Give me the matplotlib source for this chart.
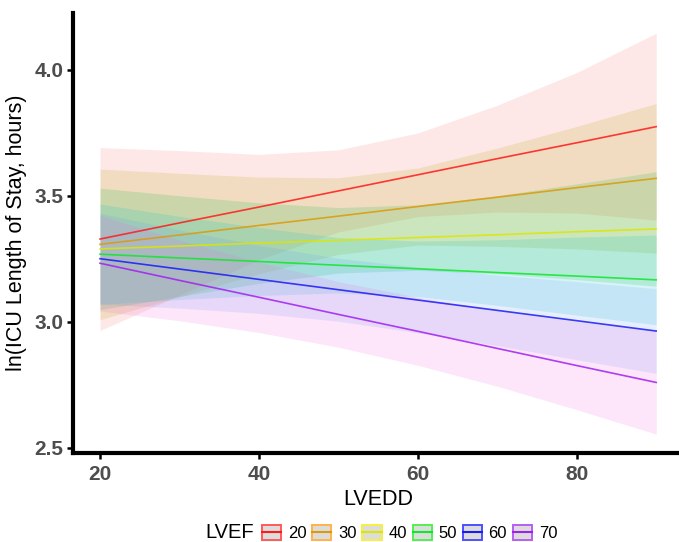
import numpy as np
import matplotlib
matplotlib.use("Agg")
import matplotlib.pyplot as plt
from matplotlib.patches import Patch
from matplotlib.lines import Line2D

plt.rcParams['font.family'] = ['Liberation Sans', 'DejaVu Sans']

# ----------------------------
# Data
# ----------------------------
lvedd = [20, 30, 40, 50, 60, 70, 80, 90]
lvef_levels = ['20', '30', '40', '50', '60', '70']

fit_20 = [3.329, 3.393, 3.456, 3.520, 3.584, 3.648, 3.711, 3.775]
low_20 = [2.966, 3.106, 3.247, 3.357, 3.418, 3.436, 3.432, 3.404]
upp_20 = [3.692, 3.680, 3.665, 3.683, 3.750, 3.860, 3.990, 4.146]

fit_30 = [3.308, 3.345, 3.383, 3.420, 3.458, 3.495, 3.533, 3.570]
low_30 = [3.009, 3.100, 3.191, 3.268, 3.305, 3.300, 3.290, 3.273]
upp_30 = [3.607, 3.590, 3.575, 3.572, 3.611, 3.690, 3.776, 3.867]

fit_40 = [3.290, 3.301, 3.313, 3.324, 3.335, 3.346, 3.358, 3.369]
low_40 = [3.049, 3.101, 3.153, 3.194, 3.205, 3.191, 3.168, 3.142]
upp_40 = [3.531, 3.501, 3.473, 3.454, 3.465, 3.501, 3.548, 3.596]

fit_50 = [3.269, 3.254, 3.240, 3.225, 3.211, 3.196, 3.182, 3.167]
low_50 = [3.070, 3.089, 3.105, 3.115, 3.101, 3.066, 3.027, 2.989]
upp_50 = [3.468, 3.419, 3.375, 3.335, 3.321, 3.326, 3.337, 3.345]

fit_60 = [3.251, 3.210, 3.169, 3.128, 3.087, 3.046, 3.005, 2.964]
low_60 = [3.071, 3.055, 3.034, 3.003, 2.957, 2.906, 2.850, 2.796]
upp_60 = [3.431, 3.365, 3.304, 3.253, 3.217, 3.186, 3.160, 3.132]

fit_70 = [3.233, 3.165, 3.098, 3.030, 2.963, 2.895, 2.827, 2.760]
low_70 = [3.043, 3.005, 2.958, 2.900, 2.828, 2.745, 2.652, 2.555]
upp_70 = [3.423, 3.325, 3.238, 3.160, 3.098, 3.045, 3.002, 2.965]

fits = [fit_20, fit_30, fit_40, fit_50, fit_60, fit_70]
lows = [low_20, low_30, low_40, low_50, low_60, low_70]
upps = [upp_20, upp_30, upp_40, upp_50, upp_60, upp_70]

# ----------------------------
# Style
# ----------------------------
line_colors = ['#FF1A1A', '#DB9A08', '#DDE600', '#10E62A', '#1A1AF5', '#A020F0']
key_edges = ['#FF5A5A', '#FFB347', '#F5F040', '#50F050', '#5050FF', '#B860F0']
band_colors = ['#F8766D', '#B79F00', '#00BA38', '#00BFC4', '#619CFF', '#F564E3']
tick_grey = '#4D4D4D'

W, H = 679, 542
fig = plt.figure(figsize=(W / 100, H / 100), dpi=100)
ax = fig.add_axes([73 / W, 89 / H, 611 / W, 440 / H])

for i in range(len(lvef_levels)):
    ax.fill_between(lvedd, lows[i], upps[i], color=band_colors[i],
                    alpha=0.16, linewidth=0)
for i in range(len(lvef_levels)):
    ax.plot(lvedd, fits[i], color=line_colors[i], lw=1.2, alpha=0.85)

ax.set_xlim(16.6, 93.5)
ax.set_ylim(2.480, 4.226)
ax.set_xticks([20, 40, 60, 80])
ax.set_yticks([2.5, 3.0, 3.5, 4.0])
ax.set_yticklabels(['2.5', '3.0', '3.5', '4.0'])

for s in ['top', 'right']:
    ax.spines[s].set_visible(False)
for s in ['left', 'bottom']:
    ax.spines[s].set_linewidth(3.0)
    ax.spines[s].set_color('black')

ax.tick_params(axis='both', length=4, width=1.8, color='black',
               labelsize=15, labelcolor=tick_grey)
ax.tick_params(axis='x', pad=5)
ax.tick_params(axis='y', pad=3)
for lab in ax.get_xticklabels() + ax.get_yticklabels():
    lab.set_fontweight('bold')

ax.set_xlabel('LVEDD', fontsize=15.5, color='black', labelpad=3)
ax.set_ylabel('ln(ICU Length of Stay, hours)', fontsize=15.5, color='black')
ax.yaxis.set_label_coords(-0.075, 0.5)

# ----------------------------
# Legend at the bottom
# ----------------------------
handles = []
for i in range(len(lvef_levels)):
    box = Patch(facecolor='#DCDCDC', edgecolor=key_edges[i], linewidth=1.4)
    ln = Line2D([], [], color=line_colors[i], lw=1.5)
    handles.append((box, ln))

fig.text(205 / W, 1 - 533 / H, 'LVEF', fontsize=14.5, va='center', ha='left')
fig.legend(handles, lvef_levels, loc='center left',
           bbox_to_anchor=(262 / W, 1 - 533 / H), ncol=6, frameon=False,
           fontsize=12, handlelength=1.15, handleheight=1.05,
           handletextpad=0.4, columnspacing=0.35, borderpad=0,
           borderaxespad=0)

fig.savefig('out.png', dpi=100)
